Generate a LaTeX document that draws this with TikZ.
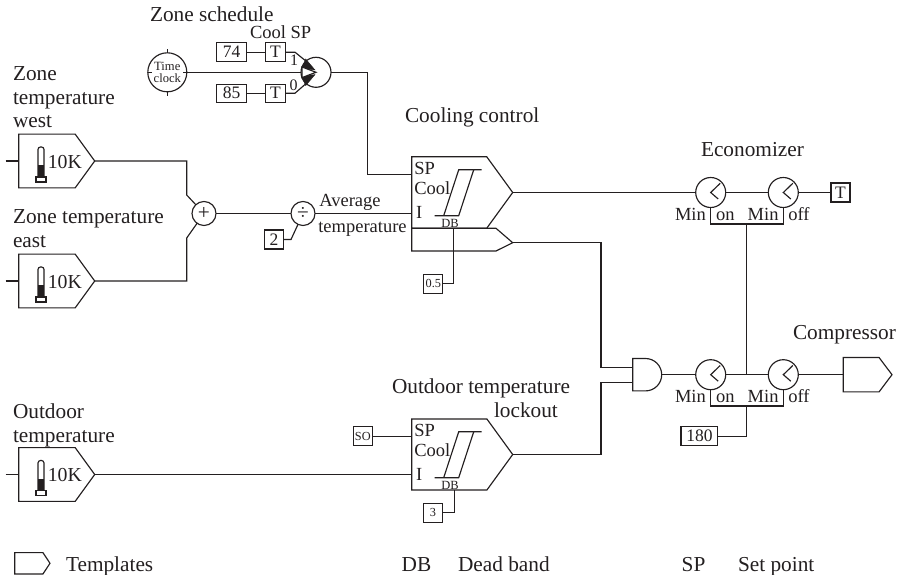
\documentclass[tikz,border=0pt]{standalone}
\usepackage{fontspec}
\setmainfont{Liberation Serif}
\usetikzlibrary{positioning, shapes.symbols}
\definecolor{clrink}{HTML}{231F20}

\begin{document}
\begin{tikzpicture}[
    x=1pt, y=-1pt,
    every node/.style={text=clrink},
    wire/.style={draw=clrink, line width=1.15pt},
    txt/.style={font=\fontsize{21.3}{24}\selectfont, anchor=base west, inner sep=0, outer sep=0},
    txtsm/.style={font=\fontsize{18.5}{20}\selectfont, anchor=base west, inner sep=0, outer sep=0},
    txtdb/.style={font=\fontsize{12.5}{14}\selectfont, anchor=base, inner sep=0, outer sep=0},
    template/.style={draw=clrink, line width=1.15pt, signal, signal to=east, signal from=nowhere, anchor=west,
                     inner sep=0, outer sep=0, signal pointer angle=108},
    valbox/.style={draw=clrink, line width=1.15pt, inner sep=0, outer sep=0, minimum width=19pt,
                   minimum height=19pt, font=\fontsize{17.5}{20}\selectfont},
    tinybox/.style={valbox, font=\fontsize{12.3}{14}\selectfont},
    dial/.style={draw=clrink, line width=1.15pt, circle, inner sep=0, outer sep=0, minimum size=30pt},
    mathop/.style={draw=clrink, line width=1.15pt, circle, inner sep=0, outer sep=0, minimum size=24pt,
                   font=\fontsize{21.3}{22}\selectfont},
]
\useasboundingbox (0,0) rectangle (907,575);
\node[template, minimum width=76pt, minimum height=53.7pt] (n_west) at (18.7,161) {};
\node[template, minimum width=76pt, minimum height=53.7pt] (n_east) at (18.7,281) {};
\node[template, minimum width=76pt, minimum height=53.7pt] (n_outdoor) at (18.7,474.5) {};
\node[template, minimum width=101pt, minimum height=71.6pt] (n_cool) at (411.7,192.5) {};
\node[template, minimum width=101pt, minimum height=71pt] (n_lock) at (411.7,454.5) {};
\node[template, minimum width=48.7pt, minimum height=34.4pt, signal pointer angle=106] (n_comp) at (843.3,374.7) {};
\node[template, minimum width=35.3pt, minimum height=21.3pt, signal pointer angle=113] (n_legend) at (14.7,563.3) {};
\node[mathop] (n_plus) at (204,213.5) {+};
\node[mathop] (n_div) at (303,213.5) {÷};
\node[draw=clrink, line width=1.15pt, circle, inner sep=0, outer sep=0, minimum size=39pt, align=center,
      font=\fontsize{12.6}{12}\selectfont] (n_clock) at (167.3,72.3) {Time\\[-0.5pt]clock};
\node[dial] (n_switch) at (316,72.3) {};
\node[dial] (n_eco_a) at (710.7,192.5) {};
\node[dial] (n_eco_b) at (783.3,192.5) {};
\node[dial] (n_com_a) at (710.7,374.7) {};
\node[dial] (n_com_b) at (783.3,374.7) {};
\node[valbox, minimum width=30pt] (n_74) at (231.7,52.2) {74};
\node[valbox, minimum width=30pt, minimum height=18pt] (n_85) at (231.7,93.2) {85};
\node[valbox, minimum width=20pt] (n_t_a) at (275.5,52.2) {T};
\node[valbox, minimum width=20pt, minimum height=18pt] (n_t_b) at (275.5,93.2) {T};
\node[valbox] (n_2) at (274,239.5) {2};
\node[tinybox] (n_05) at (433.3,283.7) {0.5};
\node[tinybox] (n_so) at (362.8,436.3) {SO};
\node[tinybox] (n_3) at (433,512.7) {3};
\node[valbox] (n_t_eco) at (840.5,192.5) {T};
\node[valbox, minimum width=36.7pt] (n_180) at (699.4,436.2) {180};
\coordinate (n_west_in) at (5.7,161);
\coordinate (n_east_in) at (5.7,281);
\coordinate (n_outdoor_in) at (5.7,474.5);
\coordinate (n_plus_up) at (186.7,195);
\coordinate (n_plus_dn) at (186.7,238);
\coordinate (n_div_dn) at (291,239.5);
\coordinate (n_sw_up) at (295,52.2);
\coordinate (n_sw_dn) at (295,93.2);
\coordinate (n_sw_ua) at (306.7,61.7);
\coordinate (n_sw_da) at (306.7,83);
\coordinate (n_sp_bend) at (367.7,174.3);
\coordinate (n_low_nw) at (411.7,228.3);
\coordinate (n_low_tip) at (512.7,242.7);
\coordinate (n_cool_db) at (453.7,228.3);
\coordinate (n_lock_db) at (454.5,490);
\coordinate (n_and_up) at (601,300);
\coordinate (n_and_dn) at (601,420);
\coordinate (n_and_a) at (632.7,367.3);
\coordinate (n_and_b) at (632.7,382.3);
\coordinate (n_and_o) at (661.7,374.7);
\coordinate (n_eco_join) at (746.7,224);
\coordinate (n_com_join) at (746.7,406);
\coordinate (n_com_line) at (746.7,374.7);
\draw[wire] (n_low_nw) -- (411.7,251) -- (496,251) -- (n_low_tip) -- (496,228.3) -- cycle;
\draw[wire] (632.7,358.5) -- (645.5,358.5) .. controls (654.45,358.5) and (661.7,365.75) .. (n_and_o) .. controls (661.7,383.65) and (654.45,390.9) .. (645.5,390.9) -- (632.7,390.9) -- cycle;
\foreach \n in {west,east,outdoor} {
    \draw[wire, rounded corners=2.5pt, fill=white] ([shift={(19.3,21)}]n_\n.west) -- ([shift={(19.3,-14)}]n_\n.west) -- ([shift={(25.3,-14)}]n_\n.west) -- ([shift={(25.3,21)}]n_\n.west);
    \fill[clrink] ([shift={(19.3,4)}]n_\n.west) rectangle ([shift={(25.3,16)}]n_\n.west);
    \draw[wire, fill=white] ([shift={(17.3,16)}]n_\n.west) rectangle ([shift={(27.3,21)}]n_\n.west);
    \node[font=\fontsize{19.8}{20}\selectfont, anchor=base west, inner sep=0] (n_\n_val) at ([shift={(28.9,7.3)}]n_\n.west) {10K};
}
\foreach \n in {cool,lock} {
    \draw[wire] ([shift={(23,23.2)}]n_\n.west) -- ([shift={(47,23.2)}]n_\n.west) -- ([shift={(62,-22.7)}]n_\n.west) -- ([shift={(70,-22.7)}]n_\n.west);
    \draw[wire] ([shift={(32,23.2)}]n_\n.west) -- ([shift={(47,-22.7)}]n_\n.west) -- ([shift={(62,-22.7)}]n_\n.west);
}
\foreach \n in {eco_a,eco_b,com_a,com_b} {
    \draw[wire] ([shift={(9.5,-9.2)}]n_\n.center) -- (n_\n.center) -- ([shift={(7.5,6.5)}]n_\n.center);
}
\foreach \a in {0,90,180,270} {
    \draw[wire, line width=0.7pt] (n_clock.\a) -- ([shift={(\a:-4)}]n_clock.\a);
}
\draw[wire] (n_west_in) -- (n_west.west);
\draw[wire] (n_east_in) -- (n_east.west);
\draw[wire] (n_outdoor_in) -- (n_outdoor.west);
\draw[wire] (n_west.east) -| (n_plus_up) -- (n_plus);
\draw[wire] (n_east.east) -| (n_plus_dn) -- (n_plus);
\draw[wire] (n_plus) -- (n_div);
\draw[wire] (n_div) -- (n_div -| n_cool.west);
\draw[wire] (n_2.east) -- (n_div_dn) -- (n_div);
\draw[wire] (n_74) -- (n_t_a);
\draw[wire] (n_85) -- (n_t_b);
\draw[wire] (n_t_a) -- (n_sw_up) -- (n_sw_ua);
\draw[wire] (n_t_b) -- (n_sw_dn) -- (n_sw_da);
\draw[wire] (n_clock) -- (n_switch);
\draw[fill=clrink, draw=clrink] (305.7,59) -- (301.7,68.3) -- (315,70) -- cycle;
\draw[fill=clrink, draw=clrink] (305.7,85.6) -- (301.7,76.3) -- (315,74.6) -- cycle;
\draw[wire, fill=white] (302,67) -- (316,72.3) -- (302,77.6) -- cycle;
\draw[wire] (n_switch.east) -| (n_sp_bend) -- (n_sp_bend -| n_cool.west);
\draw[wire] (n_cool_db) |- (n_05.east);
\draw[wire] (n_lock_db) |- (n_3.east);
\draw[wire] (n_so) -- (n_so -| n_lock.west);
\draw[wire] (n_outdoor.east) -- (n_outdoor.east -| n_lock.west);
\draw[wire] (n_cool.east) -- (n_eco_a);
\draw[wire] (n_eco_a) -- (n_eco_b);
\draw[wire] (n_eco_b) -- (n_t_eco);
\draw[wire] (n_eco_a.south) |- (n_eco_join) -| (n_eco_b.south);
\draw[wire] (n_eco_join) -- (n_com_line);
\draw[wire] (n_low_tip) -| (n_and_up) |- (n_and_a);
\draw[wire] (n_lock.east) -| (n_and_dn) |- (n_and_b);
\draw[wire] (n_and_o) -- (n_com_a);
\draw[wire] (n_com_a) -- (n_com_b);
\draw[wire] (n_com_b) -- (n_comp.west);
\draw[wire] (n_com_a.south) |- (n_com_join) -| (n_com_b.south);
\draw[wire] (n_com_join) |- (n_180.east);
\node[txt] (t_schedule) at (150,21.5) {Zone schedule};
\node[txtsm] (t_coolsp) at (250,39) {Cool SP};
\node[font=\fontsize{16}{16}\selectfont, anchor=base, inner sep=0] (t_one) at (294,65.5) {1};
\node[font=\fontsize{16}{16}\selectfont, anchor=base, inner sep=0] (t_zero) at (293.5,91) {0};
\node[txt] (t_west_a) at (13,81) {Zone};
\node[txt] (t_west_b) at (13,104.5) {temperature};
\node[txt] (t_west_c) at (13,127.5) {west};
\node[txt] (t_east_a) at (13,223.7) {Zone temperature};
\node[txt] (t_east_b) at (13,247.7) {east};
\node[txt] (t_outdoor_a) at (13,418) {Outdoor};
\node[txt] (t_outdoor_b) at (13,442) {temperature};
\node[txtsm] (t_average) at (319.3,206.5) {Average};
\node[txtsm] (t_avgtemp) at (318.3,232.5) {temperature};
\node[txt] (t_cooling) at (405,122.5) {Cooling control};
\node[txt] (t_economizer) at (701,156) {Economizer};
\node[txt] (t_compressor) at (793,339) {Compressor};
\node[txt] (t_lock_a) at (392,393.7) {Outdoor temperature};
\node[txt] (t_lock_b) at (494,417) {lockout};
\node[txtsm] (t_sp_a) at (414.3,174.5) {SP};
\node[txtsm] (t_cool_a) at (414.3,194) {Cool};
\node[txtsm] (t_i_a) at (416,218.3) {I};
\node[txtsm] (t_sp_b) at (414.3,436.7) {SP};
\node[txtsm] (t_cool_b) at (414.3,456) {Cool};
\node[txtsm] (t_i_b) at (416,480) {I};
\node[txtdb] (t_db_a) at (450,227.3) {DB};
\node[txtdb] (t_db_b) at (450,489) {DB};
\node[txtsm] (t_min_a) at (675,220.7) {Min};
\node[txtsm] (t_on_a) at (716,220.7) {on};
\node[txtsm] (t_min_b) at (747.7,220.7) {Min};
\node[txtsm] (t_off_a) at (788.3,220.7) {off};
\node[txtsm] (t_min_c) at (675,402.3) {Min};
\node[txtsm] (t_on_b) at (716,402.3) {on};
\node[txtsm] (t_min_d) at (747.7,402.3) {Min};
\node[txtsm] (t_off_b) at (788.3,402.3) {off};
\node[txt] (t_templates) at (66,571) {Templates};
\node[txt] (t_db) at (401.7,571) {DB};
\node[txt] (t_deadband) at (458,571) {Dead band};
\node[txt] (t_sp) at (681.7,571) {SP};
\node[txt] (t_setpoint) at (738,571) {Set point};
\end{tikzpicture}
\end{document}
